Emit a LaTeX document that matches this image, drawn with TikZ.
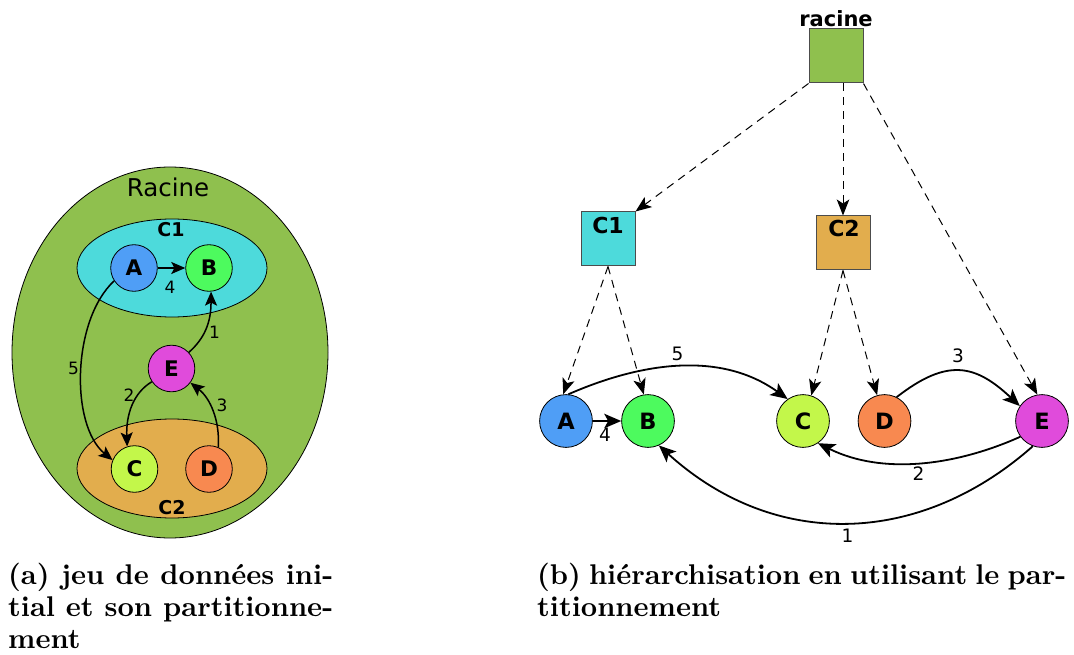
\documentclass[tikz,border=0pt]{standalone}
\usepackage{fontspec}
\newfontfamily\dv{DejaVu Sans}
\newfontfamily\capfont{lmroman10-bold.otf}
\usetikzlibrary{arrows.meta,shapes.geometric}
\definecolor{cRoot}{HTML}{8FC04E}
\definecolor{cCone}{HTML}{4DDADB}
\definecolor{cCtwo}{HTML}{E2AD4D}
\definecolor{cA}{HTML}{4F9EF6}
\definecolor{cB}{HTML}{4DFA5E}
\definecolor{cC}{HTML}{C3F74A}
\definecolor{cD}{HTML}{F88950}
\definecolor{cE}{HTML}{E04BDB}
\begin{document}
\begin{tikzpicture}[x=1pt,y=1pt,
 lnode/.style={circle, draw=black, line width=0.8pt, minimum size=46.6pt, inner sep=0pt, font=\dv\bfseries\fontsize{21.5}{21.5}\selectfont},
 rnode/.style={circle, draw=black, line width=0.8pt, minimum size=52.8pt, inner sep=0pt, font=\dv\bfseries\fontsize{22.5}{22.5}\selectfont},
 sq/.style={rectangle, draw=black!70, line width=1pt, minimum size=54pt, inner sep=0pt},
 ell/.style={ellipse, draw=black, line width=0.8pt, inner sep=0pt},
 ledge/.style={line width=1.5pt, -{Stealth[length=14pt,width=12pt,inset=3pt]}},
 redge/.style={line width=1.8pt, -{Stealth[length=17pt,width=14.5pt,inset=4pt]}},
 dedge/.style={line width=1pt, dash pattern=on 8pt off 6pt, -{Stealth[length=16pt,width=12.5pt,inset=4pt]}},
 lnum/.style={inner sep=0pt, font=\dv\fontsize{17}{17}\selectfont},
 rnum/.style={inner sep=0pt, font=\dv\fontsize{18.5}{18.5}\selectfont},
 ltitle/.style={inner sep=0pt, font=\dv\bfseries\fontsize{19}{19}\selectfont},
 rtitle/.style={inner sep=0pt, font=\dv\bfseries\fontsize{22}{22}\selectfont},
 captext/.style={inner sep=0pt, anchor=base west, font=\capfont\fontsize{28.5}{32}\selectfont},
]
\useasboundingbox (0,0) rectangle (1074,-655);

% ---------- left diagram ----------
\node[ell, fill=cRoot, minimum width=316pt, minimum height=371pt] (Lroot) at (170,-352.5) {};
\node[inner sep=0pt, font=\dv\fontsize{24.5}{24.5}\selectfont] (Lroottxt) at (168,-187) {Racine};
\node[ell, fill=cCone, minimum width=190pt, minimum height=98pt] (Lc1) at (172,-268) {};
\node[ltitle] (Lc1txt) at (171,-230) {C1};
\node[ell, fill=cCtwo, minimum width=190pt, minimum height=99pt] (Lc2) at (172,-468.5) {};
\node[ltitle] (Lc2txt) at (172,-508) {C2};

\node[lnode, fill=cA] (LA) at (134,-268) {A};
\node[lnode, fill=cB] (LB) at (209,-268) {B};
\node[lnode, fill=cE] (LE) at (171.5,-368.5) {E};
\node[lnode, fill=cC] (LC) at (134.5,-469) {C};
\node[lnode, fill=cD] (LD) at (209,-469) {D};

\draw[ledge] (LA) -- (LB);
\node[lnum] (L4) at (170,-287) {4};
\draw[ledge] (LE.43) .. controls (205,-338) and (211,-322) .. (LB.-85);
\node[lnum] (L1) at (214.5,-332) {1};
\draw[ledge] (LE.214) .. controls (133,-393) and (126,-415) .. (LC.108);
\node[lnum] (L2) at (129,-395) {2};
\draw[ledge] (LD.67) .. controls (220,-420) and (210,-398) .. (LE.-37);
\node[lnum] (L3) at (222,-405) {3};
\draw[ledge] (LA.213) .. controls (72,-320) and (70,-425) .. (LC.158);
\node[lnum] (L5) at (73.5,-368) {5};

% ---------- right diagram ----------
\node[sq, fill=cRoot] (Rroot) at (836,-56) {};
\node[inner sep=0pt, font=\dv\bfseries\fontsize{21}{21}\selectfont] (Rroottxt) at (836,-19) {racine};
\node[sq, fill=cCone] (Rc1) at (608,-239) {};
\node[rtitle] (Rc1txt) at (608,-225) {C1};
\node[sq, fill=cCtwo] (Rc2) at (843,-243) {};
\node[rtitle] (Rc2txt) at (844,-228) {C2};

\node[rnode, fill=cA] (RA) at (566,-421) {A};
\node[rnode, fill=cB] (RB) at (648,-421) {B};
\node[rnode, fill=cC] (RC) at (803,-421) {C};
\node[rnode, fill=cD] (RD) at (884.5,-421) {D};
\node[rnode, fill=cE] (RE) at (1042,-421) {E};

\draw[dedge] (Rroot.south west) -- (Rc1.north east);
\draw[dedge] (Rroot.south -| Rc2.north) -- (Rc2.north);
\draw[dedge] (Rroot.south east) -- (RE.100);
\draw[dedge] (Rc1.south) -- (RA.96);
\draw[dedge] (Rc1.south) -- (RB.99);
\draw[dedge] (Rc2.south) -- (RC.72);
\draw[dedge] (Rc2.south) -- (RD.106);

\draw[redge] (RA) -- (RB);
\node[rnum] (R4) at (605,-435) {4};
\draw[redge] (RA.85) .. controls (642,-362) and (721,-351) .. (RC.125);
\node[rnum] (R5) at (677.5,-354) {5};
\draw[redge] (RD.63) .. controls (947,-358) and (975,-364) .. (RE.146);
\node[rnum] (R3) at (958,-356) {3};
\draw[redge] (RE.216) .. controls (955,-466) and (882,-475) .. (RC.-56);
\node[rnum] (R2) at (918.5,-474) {2};
\draw[redge] (RE.250) .. controls (919,-547) and (774,-550) .. (RB.-66);
\node[rnum] (R1) at (847.5,-536) {1};

% ---------- captions ----------
\node[captext] (capa1) at (8,-584) {\makebox[325pt][s]{(a) jeu de données ini-}};
\node[captext] (capa2) at (8,-616) {\makebox[325pt][s]{tial et son partitionne-}};
\node[captext] (capa3) at (8,-648) {ment};
\node[captext] (capb1) at (537,-584) {\makebox[529pt][s]{(b) hiérarchisation en utilisant le par-}};
\node[captext] (capb2) at (537,-616) {titionnement};
\end{tikzpicture}
\end{document}
